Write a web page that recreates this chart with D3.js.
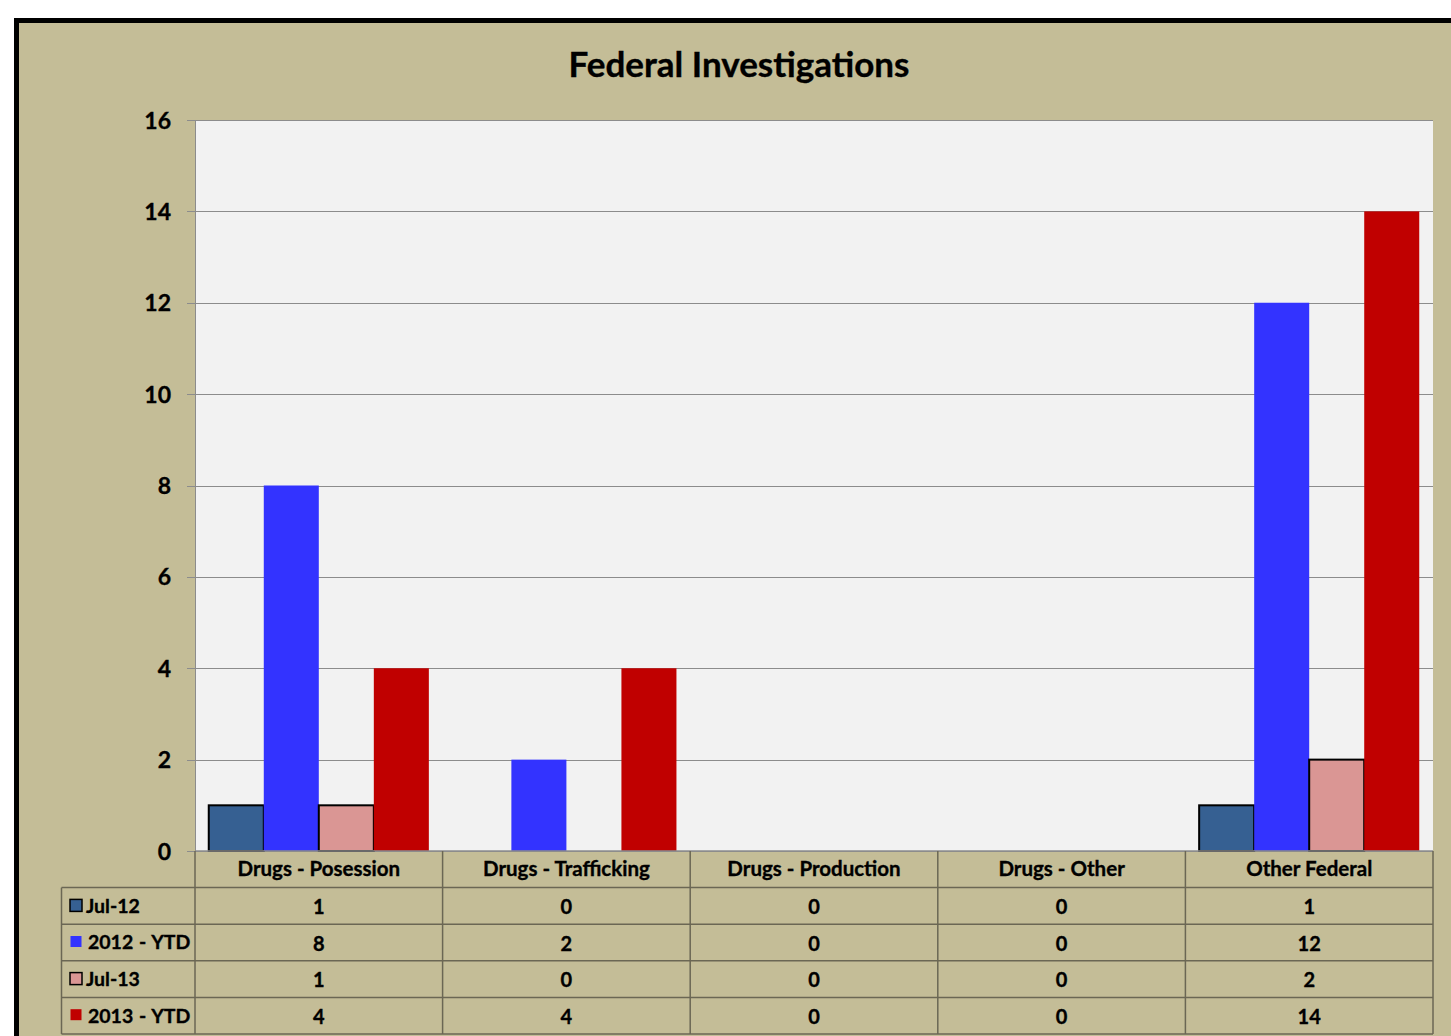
<!DOCTYPE html>
<html>
<head>
<meta charset="utf-8">
<script src="https://cdn.jsdelivr.net/npm/d3@7"></script>
<style>
  body { margin: 0; background: #fff; }
  text { font-family: Lato, "Open Sans", sans-serif; font-weight: bold; fill: #000; stroke: #000; stroke-width: 0.35px; }
</style>
</head>
<body>
<script>
var width = 1451,
    height = 1036;

// Data
var categories = ["Drugs - Posession", "Drugs - Trafficking", "Drugs - Production", "Drugs - Other", "Other Federal"];
var seriesNames = ["Jul-12", "2012 - YTD", "Jul-13", "2013 - YTD"];
var jul12 = [1, 0, 0, 0, 1];
var ytd2012 = [8, 2, 0, 0, 12];
var jul13 = [1, 0, 0, 0, 2];
var ytd2013 = [4, 4, 0, 0, 14];
var yTicks = [0, 2, 4, 6, 8, 10, 12, 14, 16];

var seriesValues = [jul12, ytd2012, jul13, ytd2013];
var colors = ["#366092", "#3333ff", "#da9694", "#c00000"];
var outlined = [true, false, true, false];

var plot = { left: 195, top: 120, right: 1433, bottom: 851 };

var svg = d3.select("body").append("svg")
    .attr("width", width)
    .attr("height", height);

// Chart frame
svg.append("rect")
    .attr("x", 16.5).attr("y", 20.5)
    .attr("width", width + 20).attr("height", height + 20)
    .attr("fill", "#c4bd97")
    .attr("stroke", "#000")
    .attr("stroke-width", 5);

svg.append("text")
    .attr("x", 739).attr("y", 77)
    .attr("text-anchor", "middle")
    .style("font-size", "35px")
    .text("Federal Investigations");

// Scales
var x = d3.scaleBand()
    .domain(categories)
    .range([plot.left, plot.right]);

var xs = d3.scaleBand()
    .domain(seriesNames)
    .range([0, x.bandwidth()])
    .paddingOuter(0.25);

var y = d3.scaleLinear()
    .domain([0, 16])
    .range([plot.bottom, plot.top]);

// Plot area
svg.append("rect")
    .attr("x", plot.left).attr("y", plot.top)
    .attr("width", plot.right - plot.left).attr("height", plot.bottom - plot.top)
    .attr("fill", "#f2f2f2");

// Gridlines
svg.append("g")
    .selectAll("line")
    .data(yTicks)
    .enter().append("line")
    .attr("x1", plot.left - 8).attr("x2", plot.right)
    .attr("y1", function (d) { return Math.round(y(d)) + 0.5; })
    .attr("y2", function (d) { return Math.round(y(d)) + 0.5; })
    .attr("stroke", "#8c8c8c")
    .attr("stroke-width", 1.2);

svg.append("line")
    .attr("x1", plot.left + 0.5).attr("x2", plot.left + 0.5)
    .attr("y1", plot.top).attr("y2", plot.bottom)
    .attr("stroke", "#8c8c8c");

// Y axis labels
var yAxis = d3.axisLeft(y).tickValues(yTicks).tickSize(0).tickPadding(0);
var yg = svg.append("g")
    .attr("transform", "translate(" + (plot.left - 24) + ",0)")
    .call(yAxis);
yg.select(".domain").remove();
yg.selectAll("text")
    .attr("dy", "0.35em")
    .style("font-family", "Lato, sans-serif")
    .style("font-size", "23px")
    .style("font-weight", "bold")
    .attr("fill", "#000");

// Bars
seriesNames.forEach(function (s, si) {
    svg.append("g")
        .selectAll("rect")
        .data(seriesValues[si].map(function (v, i) { return { c: categories[i], v: v }; })
            .filter(function (d) { return d.v > 0; }))
        .enter().append("rect")
        .attr("x", function (d) { return x(d.c) + xs(s); })
        .attr("y", function (d) { return y(d.v); })
        .attr("width", xs.bandwidth())
        .attr("height", function (d) { return y(0) - y(d.v); })
        .attr("fill", colors[si])
        .attr("stroke", outlined[si] ? "#000" : "none")
        .attr("stroke-width", 2);
});

// Data table
var rowH = 36.6;
var tableLeft = 61.5;
var lineColor = "#6b6754";
var tg = svg.append("g");

var rowsY = d3.range(seriesNames.length + 2).map(function (i) { return plot.bottom + i * rowH; });

// horizontal lines
rowsY.forEach(function (ry, i) {
    tg.append("line")
        .attr("x1", i === 0 ? plot.left : tableLeft)
        .attr("x2", plot.right)
        .attr("y1", ry).attr("y2", ry)
        .attr("stroke", i === 0 ? "#8c8c8c" : lineColor)
        .attr("stroke-width", 1.5);
});

// vertical lines
var colEdges = categories.map(function (c) { return x(c); }).concat([plot.right]);
colEdges.forEach(function (cx) {
    tg.append("line")
        .attr("x1", cx).attr("x2", cx)
        .attr("y1", rowsY[0]).attr("y2", rowsY[rowsY.length - 1])
        .attr("stroke", lineColor)
        .attr("stroke-width", 1.5);
});
tg.append("line")
    .attr("x1", tableLeft).attr("x2", tableLeft)
    .attr("y1", rowsY[1]).attr("y2", rowsY[rowsY.length - 1])
    .attr("stroke", lineColor)
    .attr("stroke-width", 1.5);

// Category labels
tg.selectAll("text.cat")
    .data(categories)
    .enter().append("text")
    .attr("class", "cat")
    .attr("x", function (d) { return x(d) + x.bandwidth() / 2; })
    .attr("y", rowsY[0] + rowH / 2)
    .attr("dy", "0.35em")
    .attr("text-anchor", "middle")
    .style("font-size", "20.5px")
    .text(function (d) { return d; });

// Rows
seriesNames.forEach(function (s, si) {
    var cy = rowsY[si + 1] + rowH / 2;
    tg.append("rect")
        .attr("x", outlined[si] ? 70 : 70.5)
        .attr("y", cy - 6.5)
        .attr("width", outlined[si] ? 12 : 11)
        .attr("height", outlined[si] ? 12 : 11)
        .attr("fill", colors[si])
        .attr("stroke", outlined[si] ? "#000" : "none")
        .attr("stroke-width", 1.5);
    tg.append("text")
        .attr("x", outlined[si] ? 86 : 88)
        .attr("y", cy)
        .attr("dy", "0.35em")
        .style("font-size", "19.5px")
        .style("word-spacing", "1px")
        .text(s);
    tg.selectAll(null)
        .data(seriesValues[si])
        .enter().append("text")
        .attr("x", function (d, i) { return x(categories[i]) + x.bandwidth() / 2; })
        .attr("y", cy)
        .attr("dy", "0.4em")
        .attr("text-anchor", "middle")
        .style("font-size", "20px")
        .text(function (d) { return d; });
});
</script>
</body>
</html>
